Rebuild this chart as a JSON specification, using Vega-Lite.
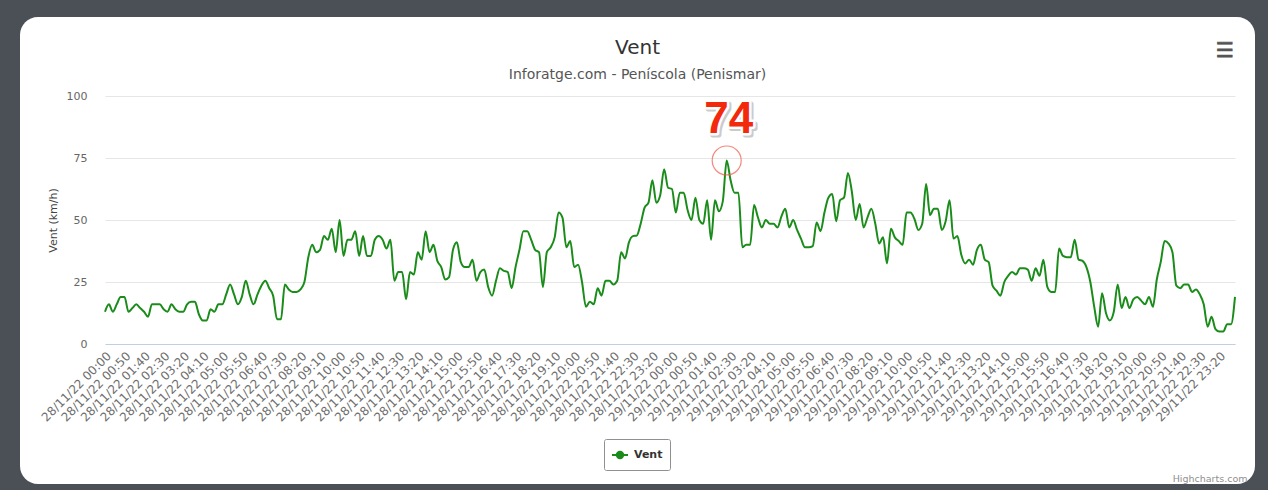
{
"$schema": "https://vega.github.io/schema/vega-lite/v6.json",
"width": 1235, "height": 467, "autosize": "none",
"padding": {"left": 20, "top": 17, "right": 13, "bottom": 6},
"background": "#4b4f56",
"config": {"view": {"fill": "white", "stroke": null, "cornerRadius": 18}, "font": "DejaVu Sans"},
"title": {"text": "Vent", "subtitle": "Inforatge.com - Peníscola (Penismar)", "anchor": "middle", "frame": "group", "offset": -65, "font": "DejaVu Sans", "fontSize": 20, "fontWeight": "normal", "color": "#333333", "subtitleFont": "DejaVu Sans", "subtitleFontSize": 14, "subtitleColor": "#555555", "subtitlePadding": 10},
"data": {"values": [
{"t":"28/11/22 00:00","v":13},{"t":"28/11/22 00:10","v":16},{"t":"28/11/22 00:20","v":13},{"t":"28/11/22 00:30","v":16},{"t":"28/11/22 00:40","v":19},{"t":"28/11/22 00:50","v":19},
{"t":"28/11/22 01:00","v":13},{"t":"28/11/22 01:10","v":14.5},{"t":"28/11/22 01:20","v":16},{"t":"28/11/22 01:30","v":14.5},{"t":"28/11/22 01:40","v":13},{"t":"28/11/22 01:50","v":11},
{"t":"28/11/22 02:00","v":16},{"t":"28/11/22 02:10","v":16},{"t":"28/11/22 02:20","v":16},{"t":"28/11/22 02:30","v":14},{"t":"28/11/22 02:40","v":13},{"t":"28/11/22 02:50","v":16},
{"t":"28/11/22 03:00","v":14},{"t":"28/11/22 03:10","v":13},{"t":"28/11/22 03:20","v":13},{"t":"28/11/22 03:30","v":16},{"t":"28/11/22 03:40","v":17},{"t":"28/11/22 03:50","v":17},
{"t":"28/11/22 04:00","v":12},{"t":"28/11/22 04:10","v":9.5},{"t":"28/11/22 04:20","v":9.5},{"t":"28/11/22 04:30","v":14},{"t":"28/11/22 04:40","v":13},{"t":"28/11/22 04:50","v":16},
{"t":"28/11/22 05:00","v":16},{"t":"28/11/22 05:10","v":20},{"t":"28/11/22 05:20","v":24},{"t":"28/11/22 05:30","v":20},{"t":"28/11/22 05:40","v":16},{"t":"28/11/22 05:50","v":19},
{"t":"28/11/22 06:00","v":25.5},{"t":"28/11/22 06:10","v":20},{"t":"28/11/22 06:20","v":16},{"t":"28/11/22 06:30","v":20},{"t":"28/11/22 06:40","v":23.5},{"t":"28/11/22 06:50","v":25.5},
{"t":"28/11/22 07:00","v":22.5},{"t":"28/11/22 07:10","v":19.5},{"t":"28/11/22 07:20","v":10},{"t":"28/11/22 07:30","v":10},{"t":"28/11/22 07:40","v":24},{"t":"28/11/22 07:50","v":22},
{"t":"28/11/22 08:00","v":21},{"t":"28/11/22 08:10","v":21},{"t":"28/11/22 08:20","v":22},{"t":"28/11/22 08:30","v":25},{"t":"28/11/22 08:40","v":35},{"t":"28/11/22 08:50","v":40},
{"t":"28/11/22 09:00","v":37},{"t":"28/11/22 09:10","v":38},{"t":"28/11/22 09:20","v":43.5},{"t":"28/11/22 09:30","v":42},{"t":"28/11/22 09:40","v":46.5},{"t":"28/11/22 09:50","v":37},
{"t":"28/11/22 10:00","v":50},{"t":"28/11/22 10:10","v":35.5},{"t":"28/11/22 10:20","v":42},{"t":"28/11/22 10:30","v":42},{"t":"28/11/22 10:40","v":45.5},{"t":"28/11/22 10:50","v":35.5},
{"t":"28/11/22 11:00","v":43.5},{"t":"28/11/22 11:10","v":35.5},{"t":"28/11/22 11:20","v":35.5},{"t":"28/11/22 11:30","v":42},{"t":"28/11/22 11:40","v":43.5},{"t":"28/11/22 11:50","v":42},
{"t":"28/11/22 12:00","v":38.5},{"t":"28/11/22 12:10","v":42},{"t":"28/11/22 12:20","v":25.5},{"t":"28/11/22 12:30","v":29},{"t":"28/11/22 12:40","v":29},{"t":"28/11/22 12:50","v":18},
{"t":"28/11/22 13:00","v":29},{"t":"28/11/22 13:10","v":28},{"t":"28/11/22 13:20","v":37},{"t":"28/11/22 13:30","v":34},{"t":"28/11/22 13:40","v":45.5},{"t":"28/11/22 13:50","v":37},
{"t":"28/11/22 14:00","v":40},{"t":"28/11/22 14:10","v":33.5},{"t":"28/11/22 14:20","v":31},{"t":"28/11/22 14:30","v":26},{"t":"28/11/22 14:40","v":27},{"t":"28/11/22 14:50","v":38},
{"t":"28/11/22 15:00","v":41},{"t":"28/11/22 15:10","v":33},{"t":"28/11/22 15:20","v":31},{"t":"28/11/22 15:30","v":31},{"t":"28/11/22 15:40","v":34},{"t":"28/11/22 15:50","v":25.5},
{"t":"28/11/22 16:00","v":29},{"t":"28/11/22 16:10","v":30},{"t":"28/11/22 16:20","v":23},{"t":"28/11/22 16:30","v":19.5},{"t":"28/11/22 16:40","v":25.5},{"t":"28/11/22 16:50","v":30.5},
{"t":"28/11/22 17:00","v":29.5},{"t":"28/11/22 17:10","v":29},{"t":"28/11/22 17:20","v":22.5},{"t":"28/11/22 17:30","v":31},{"t":"28/11/22 17:40","v":38},{"t":"28/11/22 17:50","v":45.5},
{"t":"28/11/22 18:00","v":45.5},{"t":"28/11/22 18:10","v":42},{"t":"28/11/22 18:20","v":38},{"t":"28/11/22 18:30","v":37},{"t":"28/11/22 18:40","v":23},{"t":"28/11/22 18:50","v":37},
{"t":"28/11/22 19:00","v":39},{"t":"28/11/22 19:10","v":43},{"t":"28/11/22 19:20","v":53},{"t":"28/11/22 19:30","v":51},{"t":"28/11/22 19:40","v":39},{"t":"28/11/22 19:50","v":41.5},
{"t":"28/11/22 20:00","v":31},{"t":"28/11/22 20:10","v":32},{"t":"28/11/22 20:20","v":25},{"t":"28/11/22 20:30","v":15},{"t":"28/11/22 20:40","v":17},{"t":"28/11/22 20:50","v":16},
{"t":"28/11/22 21:00","v":22.5},{"t":"28/11/22 21:10","v":19.5},{"t":"28/11/22 21:20","v":25.5},{"t":"28/11/22 21:30","v":25.5},{"t":"28/11/22 21:40","v":24},{"t":"28/11/22 21:50","v":25.5},
{"t":"28/11/22 22:00","v":37},{"t":"28/11/22 22:10","v":34.5},{"t":"28/11/22 22:20","v":41},{"t":"28/11/22 22:30","v":43.5},{"t":"28/11/22 22:40","v":43.7},{"t":"28/11/22 22:50","v":48.5},
{"t":"28/11/22 23:00","v":55},{"t":"28/11/22 23:10","v":57},{"t":"28/11/22 23:20","v":66},{"t":"28/11/22 23:30","v":57},{"t":"28/11/22 23:40","v":60},{"t":"28/11/22 23:50","v":70.5},
{"t":"28/11/22 23:59","v":63},
{"t":"29/11/22 00:00","v":62.5},{"t":"29/11/22 00:10","v":53},{"t":"29/11/22 00:20","v":61},{"t":"29/11/22 00:30","v":61},{"t":"29/11/22 00:40","v":54},{"t":"29/11/22 00:50","v":50},
{"t":"29/11/22 01:00","v":59},{"t":"29/11/22 01:10","v":50},{"t":"29/11/22 01:20","v":48.5},{"t":"29/11/22 01:30","v":58},{"t":"29/11/22 01:40","v":42},{"t":"29/11/22 01:50","v":58},
{"t":"29/11/22 02:00","v":53.5},{"t":"29/11/22 02:10","v":57.5},{"t":"29/11/22 02:20","v":74},{"t":"29/11/22 02:30","v":66},{"t":"29/11/22 02:40","v":61},{"t":"29/11/22 02:50","v":61},
{"t":"29/11/22 03:00","v":39},{"t":"29/11/22 03:10","v":40},{"t":"29/11/22 03:20","v":40},{"t":"29/11/22 03:30","v":56},{"t":"29/11/22 03:40","v":51},{"t":"29/11/22 03:50","v":47},
{"t":"29/11/22 04:00","v":50},{"t":"29/11/22 04:10","v":48.5},{"t":"29/11/22 04:20","v":48.5},{"t":"29/11/22 04:30","v":47},{"t":"29/11/22 04:40","v":51.5},{"t":"29/11/22 04:50","v":54.5},
{"t":"29/11/22 05:00","v":47},{"t":"29/11/22 05:10","v":50},{"t":"29/11/22 05:20","v":46},{"t":"29/11/22 05:30","v":42.5},{"t":"29/11/22 05:40","v":39},{"t":"29/11/22 05:50","v":39},
{"t":"29/11/22 06:00","v":39.5},{"t":"29/11/22 06:10","v":49},{"t":"29/11/22 06:20","v":45.5},{"t":"29/11/22 06:30","v":53},{"t":"29/11/22 06:40","v":59},{"t":"29/11/22 06:50","v":60.5},
{"t":"29/11/22 07:00","v":49.5},{"t":"29/11/22 07:10","v":58},{"t":"29/11/22 07:20","v":59},{"t":"29/11/22 07:30","v":69},{"t":"29/11/22 07:40","v":61.5},{"t":"29/11/22 07:50","v":50},
{"t":"29/11/22 08:00","v":56.5},{"t":"29/11/22 08:10","v":47},{"t":"29/11/22 08:20","v":51},{"t":"29/11/22 08:30","v":54.5},{"t":"29/11/22 08:40","v":48.5},{"t":"29/11/22 08:50","v":40.5},
{"t":"29/11/22 09:00","v":43},{"t":"29/11/22 09:10","v":32.5},{"t":"29/11/22 09:20","v":46.5},{"t":"29/11/22 09:30","v":43},{"t":"29/11/22 09:40","v":41.5},{"t":"29/11/22 09:50","v":40},
{"t":"29/11/22 10:00","v":53},{"t":"29/11/22 10:10","v":53},{"t":"29/11/22 10:20","v":50.5},{"t":"29/11/22 10:30","v":46},{"t":"29/11/22 10:40","v":48.5},{"t":"29/11/22 10:50","v":64.5},
{"t":"29/11/22 11:00","v":52},{"t":"29/11/22 11:10","v":54.5},{"t":"29/11/22 11:20","v":54.5},{"t":"29/11/22 11:30","v":46},{"t":"29/11/22 11:40","v":49.5},{"t":"29/11/22 11:50","v":58},
{"t":"29/11/22 12:00","v":42.5},{"t":"29/11/22 12:10","v":43.5},{"t":"29/11/22 12:20","v":36},{"t":"29/11/22 12:30","v":32.5},{"t":"29/11/22 12:40","v":34},{"t":"29/11/22 12:50","v":32},
{"t":"29/11/22 13:00","v":38},{"t":"29/11/22 13:10","v":40},{"t":"29/11/22 13:20","v":34},{"t":"29/11/22 13:30","v":33},{"t":"29/11/22 13:40","v":23.5},{"t":"29/11/22 13:50","v":21.5},
{"t":"29/11/22 14:00","v":19.5},{"t":"29/11/22 14:10","v":25},{"t":"29/11/22 14:20","v":27.5},{"t":"29/11/22 14:30","v":29},{"t":"29/11/22 14:40","v":28},{"t":"29/11/22 14:50","v":30.5},
{"t":"29/11/22 15:00","v":30.5},{"t":"29/11/22 15:10","v":30},{"t":"29/11/22 15:20","v":25.5},{"t":"29/11/22 15:30","v":30.5},{"t":"29/11/22 15:40","v":27.5},{"t":"29/11/22 15:50","v":34},
{"t":"29/11/22 16:00","v":23},{"t":"29/11/22 16:10","v":21},{"t":"29/11/22 16:20","v":21},{"t":"29/11/22 16:30","v":38.5},{"t":"29/11/22 16:40","v":35.5},{"t":"29/11/22 16:50","v":35},
{"t":"29/11/22 17:00","v":35},{"t":"29/11/22 17:10","v":42},{"t":"29/11/22 17:20","v":34},{"t":"29/11/22 17:30","v":33.5},{"t":"29/11/22 17:40","v":31},{"t":"29/11/22 17:50","v":25},
{"t":"29/11/22 18:00","v":15},{"t":"29/11/22 18:10","v":7},{"t":"29/11/22 18:20","v":20.5},{"t":"29/11/22 18:30","v":12.5},{"t":"29/11/22 18:40","v":9.5},{"t":"29/11/22 18:50","v":13},
{"t":"29/11/22 19:00","v":24},{"t":"29/11/22 19:10","v":14.5},{"t":"29/11/22 19:20","v":19},{"t":"29/11/22 19:30","v":14.5},{"t":"29/11/22 19:40","v":18},{"t":"29/11/22 19:50","v":19},
{"t":"29/11/22 20:00","v":17.5},{"t":"29/11/22 20:10","v":16},{"t":"29/11/22 20:20","v":19},{"t":"29/11/22 20:30","v":15},{"t":"29/11/22 20:40","v":26},{"t":"29/11/22 20:50","v":33},
{"t":"29/11/22 21:00","v":41.5},{"t":"29/11/22 21:10","v":40.5},{"t":"29/11/22 21:20","v":37},{"t":"29/11/22 21:30","v":23.5},{"t":"29/11/22 21:40","v":22.5},{"t":"29/11/22 21:50","v":24},
{"t":"29/11/22 22:00","v":24},{"t":"29/11/22 22:10","v":21},{"t":"29/11/22 22:20","v":22},{"t":"29/11/22 22:30","v":20},{"t":"29/11/22 22:40","v":16},{"t":"29/11/22 22:50","v":7},
{"t":"29/11/22 23:00","v":11},{"t":"29/11/22 23:10","v":6},{"t":"29/11/22 23:20","v":5},{"t":"29/11/22 23:30","v":5},{"t":"29/11/22 23:40","v":8},{"t":"29/11/22 23:50","v":8},
{"t":"30/11/22 00:00","v":19}
]},
"encoding": {
 "x": {"field": "t", "type": "ordinal", "sort": null,
  "scale": {"type": "point", "range": [85, 1215], "padding": 0},
  "axis": {"values": ["28/11/22 00:00","28/11/22 00:50","28/11/22 01:40","28/11/22 02:30","28/11/22 03:20","28/11/22 04:10","28/11/22 05:00","28/11/22 05:50","28/11/22 06:40","28/11/22 07:30","28/11/22 08:20","28/11/22 09:10","28/11/22 10:00","28/11/22 10:50","28/11/22 11:40","28/11/22 12:30","28/11/22 13:20","28/11/22 14:10","28/11/22 15:00","28/11/22 15:50","28/11/22 16:40","28/11/22 17:30","28/11/22 18:20","28/11/22 19:10","28/11/22 20:00","28/11/22 20:50","28/11/22 21:40","28/11/22 22:30","28/11/22 23:20","29/11/22 00:00","29/11/22 00:50","29/11/22 01:40","29/11/22 02:30","29/11/22 03:20","29/11/22 04:10","29/11/22 05:00","29/11/22 05:50","29/11/22 06:40","29/11/22 07:30","29/11/22 08:20","29/11/22 09:10","29/11/22 10:00","29/11/22 10:50","29/11/22 11:40","29/11/22 12:30","29/11/22 13:20","29/11/22 14:10","29/11/22 15:00","29/11/22 15:50","29/11/22 16:40","29/11/22 17:30","29/11/22 18:20","29/11/22 19:10","29/11/22 20:00","29/11/22 20:50","29/11/22 21:40","29/11/22 22:30","29/11/22 23:20"],
   "offset": -140, "labelAngle": -45, "labelPadding": 6, "ticks": false, "grid": false,
   "domainColor": "#C0D0E0", "domainWidth": 1, "labelColor": "#6e6e6e", "labelFont": "DejaVu Sans", "labelFontSize": 12, "labelOverlap": false,
   "title": "Highcharts.com", "titleFont": "DejaVu Sans", "titleFontSize": 9.5, "titleColor": "#909090", "titleFontWeight": "normal",
   "titleAlign": "right", "titleBaseline": "alphabetic", "titleX": 1227, "titleY": 137}},
 "y": {"field": "v", "type": "quantitative",
  "scale": {"domain": [0, 100], "range": [327, 79]},
  "axis": {"values": [0, 25, 50, 75, 100], "offset": -83, "domain": false, "ticks": false, "labelPadding": 16,
   "grid": true, "gridColor": "#e6e6e6", "labelColor": "#666666", "labelFont": "DejaVu Sans", "labelFontSize": 11,
   "title": "Vent (km/h)", "titleFont": "DejaVu Sans", "titleFontSize": 11, "titleFontWeight": "normal", "titleColor": "#444444", "titlePadding": 8}}
},
"layer": [
 {"mark": {"type": "line", "interpolate": "monotone", "strokeWidth": 2},
  "encoding": {"color": {"datum": "Vent", "scale": {"range": ["#1a8c1a"]},
   "legend": {"orient": "none", "legendX": 584, "legendY": 422, "title": null, "padding": 7,
    "strokeColor": "#909090", "fillColor": "white", "cornerRadius": 2,
    "labelFont": "DejaVu Sans", "labelFontSize": 11, "labelFontWeight": "bold", "labelColor": "#333333", "labelOffset": 5,
    "symbolType": "M-1,0L1,0M0.4,0A0.4,0.4,0,1,1,-0.4,0A0.4,0.4,0,1,1,0.4,0Z", "symbolSize": 256,
    "encode": {"symbols": {"update": {"fill": {"value": "#1a8c1a"}, "stroke": {"value": "#1a8c1a"}, "strokeWidth": {"value": 2}}}}}}}},
 {"transform": [{"filter": "datum.v >= 74"}],
  "mark": {"type": "point", "shape": "circle", "size": 840, "filled": false, "stroke": "#ee5a4a", "strokeWidth": 1.2, "dx": 1}},
 {"transform": [{"filter": "datum.v >= 74"}],
  "mark": {"type": "text", "font": "Liberation Sans", "fontSize": 44, "fontWeight": "bold", "fill": "#999999", "opacity": 0.5, "stroke": "#999999", "strokeWidth": 5, "strokeJoin": "round", "dx": 4, "dy": -25, "baseline": "alphabetic", "align": "center"},
  "encoding": {"text": {"field": "v"}}},
 {"transform": [{"filter": "datum.v >= 74"}],
  "mark": {"type": "text", "font": "Liberation Sans", "fontSize": 44, "fontWeight": "bold", "fill": "white", "stroke": "white", "strokeWidth": 5, "strokeJoin": "round", "dx": 2, "dy": -27, "baseline": "alphabetic", "align": "center"},
  "encoding": {"text": {"field": "v"}}},
 {"transform": [{"filter": "datum.v >= 74"}],
  "mark": {"type": "text", "font": "Liberation Sans", "fontSize": 44, "fontWeight": "bold", "fill": "#f2290c", "dx": 2, "dy": -27, "baseline": "alphabetic", "align": "center"},
  "encoding": {"text": {"field": "v"}}},
 {"transform": [{"filter": "datum.v >= 74"}],
  "mark": {"type": "text", "text": "☰", "font": "DejaVu Sans", "fontSize": 20, "fontWeight": "bold", "fill": "#555555", "stroke": "#555555", "strokeWidth": 0.8, "dx": -10, "baseline": "middle", "align": "center"},
  "encoding": {"x": {"datum": "30/11/22 00:00"}, "y": {"datum": 118.3}}}
]
}
